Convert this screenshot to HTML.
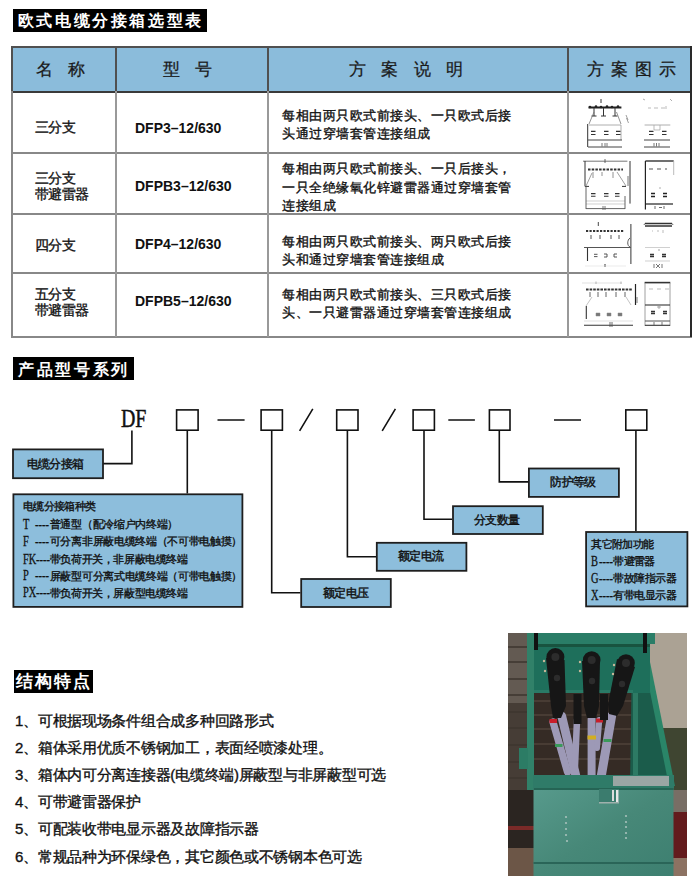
<!DOCTYPE html>
<html><head><meta charset="utf-8">
<style>
*{margin:0;padding:0;box-sizing:border-box}
html,body{width:700px;height:885px;overflow:hidden;background:#fff}
body{position:relative;font-family:"Liberation Sans",sans-serif;color:#111}
.a{position:absolute;white-space:nowrap}
.ttl{position:absolute;background:#000;color:#fff;font-weight:bold;font-size:16px;line-height:23px;letter-spacing:2.1px;white-space:nowrap;overflow:hidden}
.hl{position:absolute;height:2px}
.vl{position:absolute;width:2px}
.hd{font-size:17px;font-weight:400;line-height:17px;color:#1a1a1a;-webkit-text-stroke:0.25px #1a1a1a}
.c1{font-size:14px;font-weight:400;line-height:16px;-webkit-text-stroke:0.35px #111;letter-spacing:-0.55px}
.c2{font-size:14px;font-weight:bold;line-height:14px}
.c3{font-size:13px;font-weight:400;line-height:18.2px;-webkit-text-stroke:0.35px #111;letter-spacing:0.5px}
.sr{font-family:"Liberation Serif",serif}
.bx{position:absolute;background:#8dbedd;border:1.5px solid #1a1a1a}
.ln{position:absolute;background:#1a1a1a}
.lb{font-size:12px;line-height:13px;font-weight:400;-webkit-text-stroke:0.4px #111;letter-spacing:-0.75px}
.lt{transform-origin:0 0;color:#111;-webkit-text-stroke:0.3px #111}
.cj2{color:#111;-webkit-text-stroke:0.35px #111}
.li{font-size:15px;font-weight:400;line-height:16px;-webkit-text-stroke:0.35px #111;letter-spacing:-0.27px}
</style></head><body>

<!-- Section 1 title -->
<div class="ttl" style="left:13px;top:9px;width:194px;height:23px;padding-left:4.8px;letter-spacing:2.6px">欧式电缆分接箱选型表</div>

<!-- table header background -->
<div class="a" style="left:12px;top:46px;width:679px;height:46px;background:#8bbcdb"></div>

<!-- table lines -->
<div class="hl" style="left:11px;top:45.5px;width:681px;background:#505050"></div>
<div class="hl" style="left:11px;top:90.5px;width:681px;background:#3a3a3a"></div>
<div class="hl" style="left:11px;top:151.5px;width:681px;background:#888"></div>
<div class="hl" style="left:11px;top:213px;width:681px;background:#888"></div>
<div class="hl" style="left:11px;top:271.5px;width:681px;background:#888"></div>
<div class="hl" style="left:11px;top:335.5px;width:681px;background:#888"></div>

<div class="vl" style="left:11px;top:46px;height:45px;background:#505050"></div>
<div class="vl" style="left:11px;top:91px;height:246px;background:#888"></div>
<div class="vl" style="left:115px;top:46px;height:45px;background:#505050"></div>
<div class="vl" style="left:115px;top:91px;height:246px;background:#999"></div>
<div class="vl" style="left:267px;top:46px;height:45px;background:#505050"></div>
<div class="vl" style="left:267px;top:91px;height:246px;background:#999"></div>
<div class="vl" style="left:567px;top:46px;height:45px;background:#505050"></div>
<div class="vl" style="left:567px;top:91px;height:246px;background:#999"></div>
<div class="vl" style="left:689.5px;top:46px;height:291px;background:#2a2a2a"></div>

<!-- header text -->
<div class="a hd" style="left:36px;top:60.5px;letter-spacing:-0.85px">名　称</div>
<div class="a hd" style="left:163.3px;top:60.5px;letter-spacing:-1.2px">型　号</div>
<div class="a hd" style="left:348.6px;top:60.5px;letter-spacing:-0.7px">方　案　说　明</div>
<div class="a hd" style="left:586.6px;top:60.5px;letter-spacing:7.3px">方案图示</div>

<!-- rows col1 -->
<div class="a c1" style="left:35px;top:119px">三分支</div>
<div class="a c1" style="left:35px;top:170px">三分支<br>带避雷器</div>
<div class="a c1" style="left:35px;top:237px">四分支</div>
<div class="a c1" style="left:35px;top:286px">五分支<br>带避雷器</div>

<!-- rows col2 -->
<div class="a c2" style="left:135px;top:121px">DFP3–12/630</div>
<div class="a c2" style="left:135px;top:179px">DFPB3–12/630</div>
<div class="a c2" style="left:135px;top:237px">DFP4–12/630</div>
<div class="a c2" style="left:135px;top:294px">DFPB5–12/630</div>

<!-- rows col3 -->
<div class="a c3" style="left:282px;top:107px">每相由两只欧式前接头、一只欧式后接<br>头通过穿墙套管连接组成</div>
<div class="a c3" style="left:282px;top:160.3px">每相由两只欧式前接头、一只后接头，<br>一只全绝缘氧化锌避雷器通过穿墙套管<br>连接组成</div>
<div class="a c3" style="left:282px;top:232.6px">每相由两只欧式前接头、两只欧式后接<br>头和通过穿墙套管连接组成</div>
<div class="a c3" style="left:282px;top:286px">每相由两只欧式前接头、三只欧式后接<br>头、一只避雷器通过穿墙套管连接组成</div>


<!-- thumbnails -->
<svg class="a" style="left:570px;top:92px" width="120" height="244" viewBox="570 92 120 244">
<g fill="none" stroke-linecap="butt">
<!-- row1 left -->
<path d="M588.5 107.4H621.4" stroke="#222" stroke-width="2"/>
<g fill="#222"><circle cx="590" cy="107" r="1.3"/><circle cx="596" cy="106.5" r="1.3"/><circle cx="601" cy="107" r="1.3"/><circle cx="607" cy="106.5" r="1.3"/><circle cx="612" cy="107" r="1.3"/><circle cx="618" cy="106.5" r="1.3"/></g>
<path d="M601 99V103M594 108V116M603.5 108V116M615 108V116M591.5 116H596.5M601 116H606M612.5 116H617.5" stroke="#333" stroke-width="1"/>
<path d="M594 112L589 124M616.5 112L621 124" stroke="#777" stroke-width="0.8"/>
<path d="M589 125H621M621 125V140" stroke="#999" stroke-width="0.8"/>
<path d="M587.7 124V147" stroke="#333" stroke-width="1"/>
<path d="M591 131.4H595.5M604 131.4H608.5M616 131.4H620.5M591 134.5H595.5M604 134.5H608.5M616 134.5H620.5" stroke="#333" stroke-width="1.2"/>
<path d="M588 140H622M588 147H622" stroke="#444" stroke-width="1"/>
<path d="M602 143V146.5M605 143V146.5M607 143V146.5" stroke="#555" stroke-width="0.8"/>
<path d="M626 115L628 120M626.5 118L628.5 123" stroke="#888" stroke-width="0.8"/>
<!-- row1 right -->
<path d="M643 99L645 100M670 99L672 101" stroke="#999" stroke-width="0.8"/>
<path d="M648 108H651M654 108H658M661 108H665M666 106V109" stroke="#aaa" stroke-width="0.8"/>
<path d="M644.6 125H670.3" stroke="#999" stroke-width="0.8"/>
<path d="M654 125V130H660V125" stroke="#aaa" stroke-width="0.8"/>
<path d="M649 131.4H653.5M662 131.4H666.5M649 134.5H653.5M662 134.5H666.5" stroke="#333" stroke-width="1.2"/>
<path d="M644 140H670M644 147H670" stroke="#444" stroke-width="1"/>
<path d="M654 143V146.5M656.5 143V146.5M659 143V146.5" stroke="#555" stroke-width="0.8"/>

<!-- row2 left -->
<path d="M583 161.2H627.4" stroke="#666" stroke-width="0.9"/>
<path d="M605 159V163" stroke="#444" stroke-width="0.8"/>
<path d="M585 161V186.4H589M622 186.4H626" stroke="#333" stroke-width="1"/>
<path d="M588 169.5H623" stroke="#333" stroke-width="2.2" stroke-dasharray="2.5 1.2"/>
<path d="M593 172V178M602 172V176M613 172V178" stroke="#777" stroke-width="0.8"/>
<path d="M592 173L586 186M617 172L626 186" stroke="#888" stroke-width="0.8"/>
<path d="M630 161V203.6" stroke="#333" stroke-width="1"/>
<path d="M628 176V186" stroke="#666" stroke-width="0.9"/>
<path d="M591 193.6H595.5M604 193.6H608.5M615 193.6H619.5M591 196.2H595.5M604 196.2H608.5M615 196.2H619.5" stroke="#333" stroke-width="1.1"/>
<path d="M586 201H625M586 204H625" stroke="#bbb" stroke-width="0.7"/>
<path d="M586 186V209M586 208.6H625M625 196V209" stroke="#555" stroke-width="0.9"/>
<path d="M603 206V210M605 206V210" stroke="#555" stroke-width="0.8"/>
<!-- row2 right -->
<path d="M645.4 161H673.7" stroke="#222" stroke-width="1.3"/>
<path d="M645.4 161V209.6" stroke="#222" stroke-width="1.2"/>
<path d="M673.7 161V175" stroke="#aaa" stroke-width="0.8"/>
<path d="M649 169H653M657 169H661M665 169H667" stroke="#555" stroke-width="1.2"/>
<path d="M659 188H661" stroke="#999" stroke-width="0.8"/>
<path d="M651 193.5H655M663 193.5H667M651 196.5H655M663 196.5H667" stroke="#222" stroke-width="1.5"/>
<path d="M645 204H673" stroke="#222" stroke-width="1.2"/>
<path d="M655 206V209M659 207.5H662M664 206V209" stroke="#444" stroke-width="0.8"/>

<!-- row3 left -->
<path d="M598.3 222V226" stroke="#333" stroke-width="0.9"/>
<path d="M586 231H624" stroke="#333" stroke-width="2" stroke-dasharray="2.2 1.3"/>
<path d="M591 235V239M600 235V239M611 235V239M619 235V239" stroke="#444" stroke-width="0.9"/>
<path d="M630.9 224V264" stroke="#333" stroke-width="1"/>
<path d="M630 238C627 240 627 246 630 247" stroke="#444" stroke-width="0.9"/>
<path d="M584 247.5H631" stroke="#555" stroke-width="1.1"/>
<path d="M587.5 248V261" stroke="#333" stroke-width="1.1"/>
<path d="M594 254.3H597.5M594 256.6H597.5" stroke="#444" stroke-width="0.9"/>
<path d="M604 254H607V257H604M614 254H617M614 254V257H617" stroke="#444" stroke-width="0.9"/>
<path d="M605 264V267" stroke="#333" stroke-width="1"/>
<path d="M585 266H626" stroke="#ddd" stroke-width="0.6"/>
<!-- row3 right -->
<path d="M645 223.5H672M645 226H672" stroke="#333" stroke-width="1.3"/>
<path d="M644 224.8L645 223.5M672 223.5L673 224.8" stroke="#333" stroke-width="1"/>
<path d="M652 231H653M657 231H659M663 230V233" stroke="#aaa" stroke-width="0.8"/>
<path d="M645 247.5H670" stroke="#bbb" stroke-width="0.7"/>
<path d="M658 250H660" stroke="#888" stroke-width="0.8"/>
<path d="M650 254.5H654M662 254.5H666M650 256.5H654M662 256.5H666" stroke="#333" stroke-width="1.3"/>
<path d="M645 261H670" stroke="#bbb" stroke-width="0.7"/>
<path d="M654 264V268M656 264L660 268M660 264L656 268M662 264V268" stroke="#555" stroke-width="0.8"/>

<!-- row4 left -->
<path d="M582 283H622" stroke="#ccc" stroke-width="0.6"/>
<path d="M596 281.5V284M621 281.5V284" stroke="#999" stroke-width="0.7"/>
<path d="M586 289.5H632" stroke="#333" stroke-width="2.2" stroke-dasharray="2.6 1"/>
<path d="M590 292V297M598 292V297M606 292V297M616 292V297M625 292V297" stroke="#555" stroke-width="0.9"/>
<path d="M592 297L586 306M626 297L631 305" stroke="#aaa" stroke-width="0.7"/>
<path d="M635.5 284V305" stroke="#222" stroke-width="1.2"/>
<path d="M637 297V303" stroke="#555" stroke-width="0.8"/>
<path d="M586.3 306V319" stroke="#333" stroke-width="1.1"/>
<path d="M596 313H600V316H596ZM607 313H611V316H607ZM618 313H622V316H618Z" fill="#777" stroke="#888" stroke-width="0.5"/>
<path d="M584 321H633" stroke="#ccc" stroke-width="0.6"/>
<path d="M584 325.3H633" stroke="#333" stroke-width="1.1"/>
<path d="M610 322V327M612 322V327" stroke="#444" stroke-width="0.8"/>
<!-- row4 right -->
<path d="M644.6 282.6H670.3" stroke="#333" stroke-width="1.6"/>
<path d="M645 283V326M670 283V326" stroke="#888" stroke-width="0.8"/>
<path d="M649 289H653M657 289H661M665 289H669" stroke="#aaa" stroke-width="0.8"/>
<path d="M645 305H670" stroke="#333" stroke-width="1.1"/>
<path d="M657 307H661M659 306V309" stroke="#888" stroke-width="0.7"/>
<path d="M651 311.5H655M663 311.5H667M651 313.5H655M663 313.5H667" stroke="#333" stroke-width="1.3"/>
<path d="M645 321H670" stroke="#555" stroke-width="1"/>
<path d="M645 325.3H670" stroke="#333" stroke-width="1.1"/>
<path d="M654 322V325M662 322V325" stroke="#555" stroke-width="0.8"/>
</g>
</svg>

<!-- Section 2 title -->
<div class="ttl" style="left:13px;top:357px;width:121px;height:23px;padding-left:5.2px;letter-spacing:2.64px;padding-top:0.7px">产品型号系列</div>


<!-- diagram -->
<svg class="a" style="left:0;top:0" width="700" height="885" viewBox="0 0 700 885">
<g fill="none" stroke="#111" stroke-width="1.6">
<rect x="176.6" y="409.9" width="21.5" height="20.3"/>
<rect x="261.1" y="409.9" width="21.3" height="20.3"/>
<rect x="336.7" y="409.9" width="21.3" height="20.3"/>
<rect x="413.1" y="409.9" width="21.3" height="20.3"/>
<rect x="489.4" y="409.9" width="20.6" height="20.3"/>
<rect x="625.8" y="409.9" width="21" height="20.3"/>
<path d="M217.5 420H244.6M448.3 420H474.9M554 420H581"/>
<path d="M299.6 430.9L312.8 408.9M382.2 430.9L395.4 408.9"/>
<path d="M131.9 430.6V463.6H103"/>
<path d="M187.3 431V493.5"/>
<path d="M271.7 431V592.8H300.4"/>
<path d="M347.4 431V556.8H376"/>
<path d="M424 431V519.3H452.2"/>
<path d="M499.3 431V481.9H528.1"/>
<path d="M635.9 431V531.2"/>
</g>
<g fill="#8dbedc" stroke="#1e1e1e" stroke-width="1.8">
<rect x="13" y="449.4" width="90" height="28.8"/>
<rect x="13.4" y="494.3" width="229" height="112.6"/>
<rect x="301.2" y="579" width="89.6" height="28"/>
<rect x="376.8" y="542.8" width="89.6" height="28"/>
<rect x="453" y="506.2" width="89.8" height="27.8"/>
<rect x="528.9" y="468.5" width="90" height="28.4"/>
<rect x="586.1" y="532" width="101.3" height="74.4"/>
</g>
</svg>
<div class="a sr" style="left:121px;top:406px;font-size:25.5px;line-height:25.5px;transform:scaleX(0.78);transform-origin:0 0;color:#111;-webkit-text-stroke:0.5px #111">DF</div>

<div class="a sr lb" style="left:26.8px;top:458.4px">电缆分接箱</div>
<div class="a sr lb" style="left:323.2px;top:587.1px">额定电压</div>
<div class="a sr lb" style="left:398.2px;top:549.8px">额定电流</div>
<div class="a sr lb" style="left:474.2px;top:513.8px">分支数量</div>
<div class="a sr lb" style="left:550.3px;top:476.1px">防护等级</div>

<!-- big box text -->
<div class="a cj2" style="left:23.0px;top:501.1px;font-size:10.6px;line-height:10.6px;letter-spacing:-0.67px">电缆分接箱种类</div>
<div class="a sr lt" style="left:23.2px;top:516.6px;font-size:14.5px;line-height:14.5px;transform:scaleX(0.72)">T</div>
<div class="a sr lt" style="left:35.4px;top:516.6px;font-size:14.5px;line-height:14.5px;transform:scaleX(0.72)">----</div>
<div class="a cj2" style="left:49.8px;top:519.0px;font-size:10.6px;line-height:10.6px;letter-spacing:-0.3px">普通型（配冷缩户内终端）</div>
<div class="a sr lt" style="left:23.2px;top:533.8px;font-size:14.5px;line-height:14.5px;transform:scaleX(0.72)">F</div>
<div class="a sr lt" style="left:35.4px;top:533.8px;font-size:14.5px;line-height:14.5px;transform:scaleX(0.72)">----</div>
<div class="a cj2" style="left:49.8px;top:536.2px;font-size:10.6px;line-height:10.6px;letter-spacing:-0.32px">可分离非屏蔽电缆终端（不可带电触摸）</div>
<div class="a sr lt" style="left:23.2px;top:551.5px;font-size:14.5px;line-height:14.5px;transform:scaleX(0.72)">FK</div>
<div class="a sr lt" style="left:36.2px;top:551.5px;font-size:14.5px;line-height:14.5px;transform:scaleX(0.72)">----</div>
<div class="a cj2" style="left:49.8px;top:553.9px;font-size:10.6px;line-height:10.6px;letter-spacing:-0.41px">带负荷开关，非屏蔽电缆终端</div>
<div class="a sr lt" style="left:23.2px;top:568.1px;font-size:14.5px;line-height:14.5px;transform:scaleX(0.72)">P</div>
<div class="a sr lt" style="left:35.4px;top:568.1px;font-size:14.5px;line-height:14.5px;transform:scaleX(0.72)">----</div>
<div class="a cj2" style="left:49.8px;top:570.5px;font-size:10.6px;line-height:10.6px;letter-spacing:-0.32px">屏蔽型可分离式电缆终端（可带电触摸）</div>
<div class="a sr lt" style="left:23.2px;top:585.2px;font-size:14.5px;line-height:14.5px;transform:scaleX(0.72)">PX</div>
<div class="a sr lt" style="left:36.2px;top:585.2px;font-size:14.5px;line-height:14.5px;transform:scaleX(0.72)">----</div>
<div class="a cj2" style="left:49.8px;top:587.6px;font-size:10.6px;line-height:10.6px;letter-spacing:-0.41px">带负荷开关，屏蔽型电缆终端</div>
<!-- right box text -->
<div class="a cj2" style="left:591.2px;top:538.7px;font-size:10.6px;line-height:10.6px;letter-spacing:-0.66px">其它附加功能</div>
<div class="a sr lt" style="left:590.9px;top:553.7px;font-size:14.5px;line-height:14.5px;transform:scaleX(0.72)">B</div>
<div class="a sr lt" style="left:599.2px;top:553.7px;font-size:14.5px;line-height:14.5px;transform:scaleX(0.72)">----</div>
<div class="a cj2" style="left:613.3px;top:555.9px;font-size:10.6px;line-height:10.6px;letter-spacing:-0.77px">带避雷器</div>
<div class="a sr lt" style="left:590.9px;top:571.0px;font-size:14.5px;line-height:14.5px;transform:scaleX(0.72)">G</div>
<div class="a sr lt" style="left:599.2px;top:571.0px;font-size:14.5px;line-height:14.5px;transform:scaleX(0.72)">----</div>
<div class="a cj2" style="left:613.3px;top:573.2px;font-size:10.6px;line-height:10.6px;letter-spacing:-0.46px">带故障指示器</div>
<div class="a sr lt" style="left:590.9px;top:588.2px;font-size:14.5px;line-height:14.5px;transform:scaleX(0.72)">X</div>
<div class="a sr lt" style="left:599.2px;top:588.2px;font-size:14.5px;line-height:14.5px;transform:scaleX(0.72)">----</div>
<div class="a cj2" style="left:613.3px;top:590.4px;font-size:10.6px;line-height:10.6px;letter-spacing:-0.46px">有带电显示器</div>


<!-- photo -->
<svg class="a" style="left:508px;top:633px" width="179" height="243" viewBox="508 633 179 243">
<rect x="508" y="633" width="179" height="243" fill="#3a322c"/>
<!-- left brick wall -->
<rect x="508" y="633" width="20" height="70" fill="#635a52"/>
<rect x="508" y="703" width="20" height="87" fill="#463d36"/>
<path d="M508 647H528M508 662H528M508 679H528M508 695H528M508 712H528M508 728H528M508 745H528M508 762H528M508 778H528" stroke="#3e362f" stroke-width="1.5"/>
<rect x="508" y="790" width="26" height="58" fill="#2b2521"/>
<rect x="508" y="826" width="26" height="4" fill="#7a2a28"/>
<rect x="508" y="848" width="26" height="28" fill="#6c5647"/>
<!-- dark brick behind cables -->
<rect x="533" y="693" width="100" height="85" fill="#352b25"/>
<path d="M533 701H632M533 715H632M533 729H632M533 744H632M533 759H632" stroke="#4f433a" stroke-width="1.6"/>
<!-- right wall -->
<rect x="646" y="633" width="41" height="95" fill="#aba294"/>
<rect x="655" y="728" width="32" height="62" fill="#3f4531"/>
<rect x="673" y="790" width="14" height="22" fill="#786e65"/>
<rect x="673" y="812" width="14" height="46" fill="#631b1d"/>
<rect x="673" y="858" width="14" height="18" fill="#8c7262"/>
<!-- right slanted frame -->
<polygon points="632,655 648,655 671,786 630,786" fill="#1b5c4b"/>
<polygon points="642,652 648,652 675,786 669,786" fill="#2a8568"/>
<rect x="633" y="690" width="5" height="88" fill="#2d7a64"/>
<!-- top green panel -->
<rect x="533" y="633" width="117" height="60" fill="#1e6f5b"/>
<rect x="527" y="633" width="128" height="11" fill="#2a7d67"/>
<rect x="533" y="644" width="117" height="3" fill="#18533f"/>
<rect x="533" y="690" width="100" height="3" fill="#2a7a66"/>
<!-- left post -->
<rect x="527" y="633" width="7" height="157" fill="#318169"/>
<rect x="519" y="748" width="9" height="21" fill="#2c7c65"/>
<!-- black rods -->
<rect x="534" y="633" width="4" height="17" fill="#111"/>
<rect x="643" y="633" width="4" height="20" fill="#111"/>
<!-- cables (grey) -->
<g stroke="#9d99b6" stroke-linecap="round">
<path d="M553 722L567.5 772" stroke-width="7.3"/>
<path d="M561.7 716L577.8 784" stroke-width="8.8"/>
<path d="M577 720L575 766" stroke-width="6.5"/>
<path d="M591.6 719L591.6 784" stroke-width="8"/>
<path d="M599.3 720L597 748" stroke-width="6"/>
<path d="M611.6 716L599.9 784" stroke-width="9"/>
</g>
<!-- color bands -->
<rect x="549.5" y="719" width="7.5" height="4" fill="#c81e2a"/>
<rect x="596" y="718.5" width="7" height="4" fill="#c81e2a"/>
<rect x="587.5" y="735.5" width="8.5" height="4" fill="#d2ae22"/>
<rect x="555" y="744" width="7.5" height="3" fill="#3a9a5a"/>
<rect x="603.5" y="739" width="8" height="3" fill="#3a9a5a"/>
<!-- black elbow connectors -->
<g fill="#161616">
<rect x="573.5" y="694" width="8" height="30"/>
<rect x="600" y="694" width="8" height="26"/>
<circle cx="555.4" cy="657" r="9"/>
<path d="M546 658L564.5 660L566 706L561 718L553 718L551 706Z"/>
<circle cx="591.7" cy="660" r="8.8"/>
<path d="M582 661L600 661L599 706L596 718L587 718L584 706Z"/>
<circle cx="626" cy="663" r="8.8"/>
<path d="M617 659L635 667L623 706L617 716L609 714L608 704Z"/>
</g>
<g fill="#2c2c2c"><circle cx="557" cy="678" r="3.2"/><circle cx="592" cy="681" r="3.2"/><circle cx="622" cy="684" r="3.2"/>
<circle cx="555.4" cy="657" r="4"/><circle cx="591.7" cy="660" r="4"/><circle cx="626" cy="663" r="4"/></g>
<g fill="#c8b89a"><circle cx="544" cy="661" r="1.2"/><circle cx="545" cy="671" r="1.2"/><circle cx="580" cy="662" r="1.2"/><circle cx="580" cy="671" r="1.2"/><circle cx="614" cy="665" r="1.2"/><circle cx="613" cy="674" r="1.2"/></g>
<!-- bottom ledge of upper section -->
<rect x="533" y="775" width="141" height="13" fill="#2f7b68"/>
<rect x="613" y="776" width="56" height="10" fill="#9aa6a4"/>
<!-- lower box -->
<defs><linearGradient id="lg" x1="0" y1="0" x2="1" y2="1"><stop offset="0" stop-color="#579a8c"/><stop offset="0.5" stop-color="#478878"/><stop offset="1" stop-color="#3d7f70"/></linearGradient></defs>
<rect x="533.5" y="788" width="140" height="88" fill="url(#lg)"/>
<rect x="533.5" y="788" width="140" height="2" fill="#256454"/>
<rect x="533.5" y="862" width="140" height="2" fill="#2a6558"/>
<rect x="599" y="789" width="20" height="14" fill="#3b7c6e"/>
<rect x="599" y="802" width="20" height="1.5" fill="#9fb0ac"/>
<rect x="612" y="790" width="2" height="11" fill="#ddd"/>
<rect x="616" y="790" width="2.5" height="12" fill="#e8e8e8"/>
<g fill="#a6c0ba"><circle cx="566" cy="817" r="1.1"/><circle cx="566" cy="823" r="1.1"/><circle cx="566" cy="829" r="1.1"/><circle cx="566" cy="835" r="1.1"/><circle cx="567" cy="841" r="1.1"/>
<circle cx="626" cy="816" r="1.1"/><circle cx="626" cy="822" r="1.1"/><circle cx="626" cy="827" r="1.1"/><circle cx="626" cy="833" r="1.1"/><circle cx="626" cy="838" r="1.1"/></g>
</svg>

<!-- Section 3 title -->
<div class="ttl" style="left:14px;top:670px;width:79px;height:23px;padding-left:2px;letter-spacing:1.95px;font-size:17px">结构特点</div>

<!-- list -->
<div class="a li" style="left:15px;top:713px">1、可根据现场条件组合成多种回路形式</div>
<div class="a li" style="left:15px;top:740px">2、箱体采用优质不锈钢加工，表面经喷漆处理。</div>
<div class="a li" style="left:15px;top:767px">3、箱体内可分离连接器(电缆终端)屏蔽型与非屏蔽型可选</div>
<div class="a li" style="left:15px;top:794.3px">4、可带避雷器保护</div>
<div class="a li" style="left:15px;top:821.4px">5、可配装收带电显示器及故障指示器</div>
<div class="a li" style="left:15px;top:848.6px">6、常规品种为环保绿色，其它颜色或不锈钢本色可选</div>

</body></html>
